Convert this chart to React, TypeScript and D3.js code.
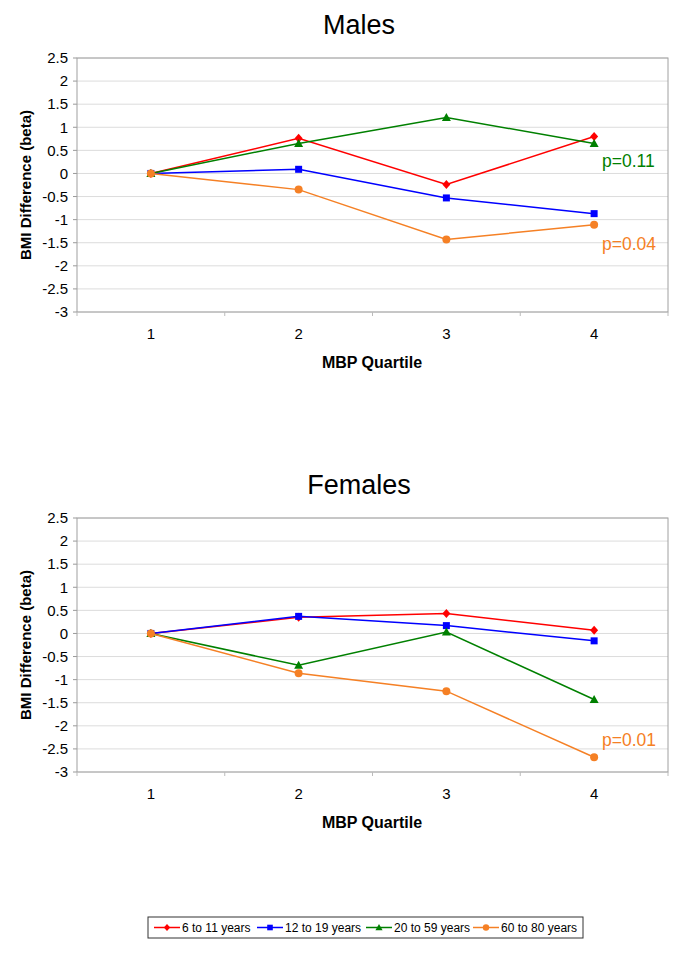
import * as d3 from "d3";

const quartiles = ["1", "2", "3", "4"];
const groups = ["6 to 11 years", "12 to 19 years", "20 to 59 years", "60 to 80 years"];
const colors = ["#ff0000", "#0000ff", "#008000", "#f58025"];
const markers = ["diamond", "square", "triangle", "circle"];
const yTicks = [2.5, 2, 1.5, 1, 0.5, 0, -0.5, -1, -1.5, -2, -2.5, -3];

const malesRed = [0, 0.76, -0.24, 0.8];
const malesBlue = [0, 0.09, -0.53, -0.87];
const malesGreen = [0, 0.65, 1.21, 0.65];
const malesOrange = [0, -0.35, -1.43, -1.11];

const femalesRed = [0, 0.35, 0.43, 0.07];
const femalesBlue = [0, 0.37, 0.17, -0.16];
const femalesGreen = [0, -0.69, 0.03, -1.43];
const femalesOrange = [0, -0.86, -1.25, -2.68];

const malesNotes = [
  { text: "p=0.11", value: 0.65, group: 2, dy: 24 },
  { text: "p=0.04", value: -1.11, group: 3, dy: 25 },
];
const femalesNotes = [{ text: "p=0.01", value: -2.68, group: 3, dy: -11 }];

const font = "'Liberation Sans', Arial, sans-serif";

function Marker({ type, x, y, color, s = 1 }: { type: string; x: number; y: number; color: string; s?: number }) {
  if (type === "diamond") {
    return <path d={`M${x},${y - 4.5 * s}L${x + 4 * s},${y}L${x},${y + 4.5 * s}L${x - 4 * s},${y}Z`} fill={color} />;
  }
  if (type === "square") {
    return <rect x={x - 3.5 * s} y={y - 3.5 * s} width={7 * s} height={7 * s} fill={color} />;
  }
  if (type === "triangle") {
    return <path d={`M${x},${y - 4.5 * s}L${x + 4.5 * s},${y + 3.5 * s}L${x - 4.5 * s},${y + 3.5 * s}Z`} fill={color} />;
  }
  return <circle cx={x} cy={y} r={4 * s} fill={color} />;
}

function Panel({ top, title, series, notes }: { top: number; title: string; series: number[][]; notes: { text: string; value: number; group: number; dy: number }[] }) {
  const left = 77;
  const right = 668;
  const plotTop = top + 18;
  const plotBottom = top + 272;
  const x = d3.scaleBand().domain(quartiles).range([left, right]);
  const y = d3.scaleLinear().domain([-3, 2.5]).range([plotBottom, plotTop]);
  const cx = (q: string) => (x(q) as number) + x.bandwidth() / 2;
  const line = d3.line<number>().x((_, i) => cx(quartiles[i])).y((d) => y(d));

  return (
    <g>
      <text x={359} y={top - 6} textAnchor="middle" fontSize={27} fontFamily={font}>{title}</text>
      {yTicks.map((t) => (
        <g key={t}>
          <line x1={left} x2={right} y1={y(t)} y2={y(t)} stroke="#dcdcdc" strokeWidth={1} />
          <line x1={left - 4} x2={left} y1={y(t)} y2={y(t)} stroke="#999" />
          <text x={left - 9} y={y(t)} dy="0.35em" textAnchor="end" fontSize={15} fontFamily={font}>{t}</text>
        </g>
      ))}
      <rect x={left} y={plotTop} width={right - left} height={plotBottom - plotTop} fill="none" stroke="#a0a0a0" strokeWidth={1} />
      {quartiles.map((q, i) => (
        <g key={q}>
          <line x1={(x(q) as number) + x.bandwidth()} x2={(x(q) as number) + x.bandwidth()} y1={plotBottom} y2={plotBottom + 4} stroke="#bbb" />
          {i === 0 && <line x1={left} x2={left} y1={plotBottom} y2={plotBottom + 4} stroke="#bbb" />}
          <text x={cx(q)} y={plotBottom + 27} textAnchor="middle" fontSize={15} fontFamily={font}>{q}</text>
        </g>
      ))}
      <text x={372} y={plotBottom + 56} textAnchor="middle" fontSize={16} fontWeight="bold" fontFamily={font}>MBP Quartile</text>
      <text transform={`translate(31,${(plotTop + plotBottom) / 2}) rotate(-90)`} textAnchor="middle" fontSize={15} fontWeight="bold" fontFamily={font}>BMI Difference (beta)</text>
      {series.map((s, si) => (
        <g key={si}>
          <path d={line(s) || undefined} fill="none" stroke={colors[si]} strokeWidth={1.5} />
          {s.map((v, i) => (
            <Marker key={i} type={markers[si]} x={cx(quartiles[i])} y={y(v)} color={colors[si]} />
          ))}
        </g>
      ))}
      {notes.map((n) => (
        <text key={n.text} x={602} y={y(n.value) + n.dy} fontSize={17.5} fill={colors[n.group]} fontFamily={font}>{n.text}</text>
      ))}
    </g>
  );
}

function Legend() {
  const itemX = [154, 257, 366, 473];
  return (
    <g>
      <rect x={148} y={917} width={435} height={21} fill="#fff" stroke="#333" strokeWidth={1} />
      {groups.map((g, i) => (
        <g key={g}>
          <line x1={itemX[i]} x2={itemX[i] + 26} y1={927.5} y2={927.5} stroke={colors[i]} strokeWidth={1.5} />
          <Marker type={markers[i]} x={itemX[i] + 13} y={927.5} color={colors[i]} s={0.8} />
          <text x={itemX[i] + 28} y={927.5} dy="0.35em" fontSize={12} fontFamily={font}>{g}</text>
        </g>
      ))}
    </g>
  );
}

export default function App() {
  return (
    <svg width={685} height={953} style={{ position: "absolute", left: 0, top: 0 }}>
      <rect width={685} height={953} fill="#fff" />
      <Panel top={40} title="Males" series={[malesRed, malesBlue, malesGreen, malesOrange]} notes={malesNotes} />
      <Panel top={500} title="Females" series={[femalesRed, femalesBlue, femalesGreen, femalesOrange]} notes={femalesNotes} />
      <Legend />
    </svg>
  );
}
